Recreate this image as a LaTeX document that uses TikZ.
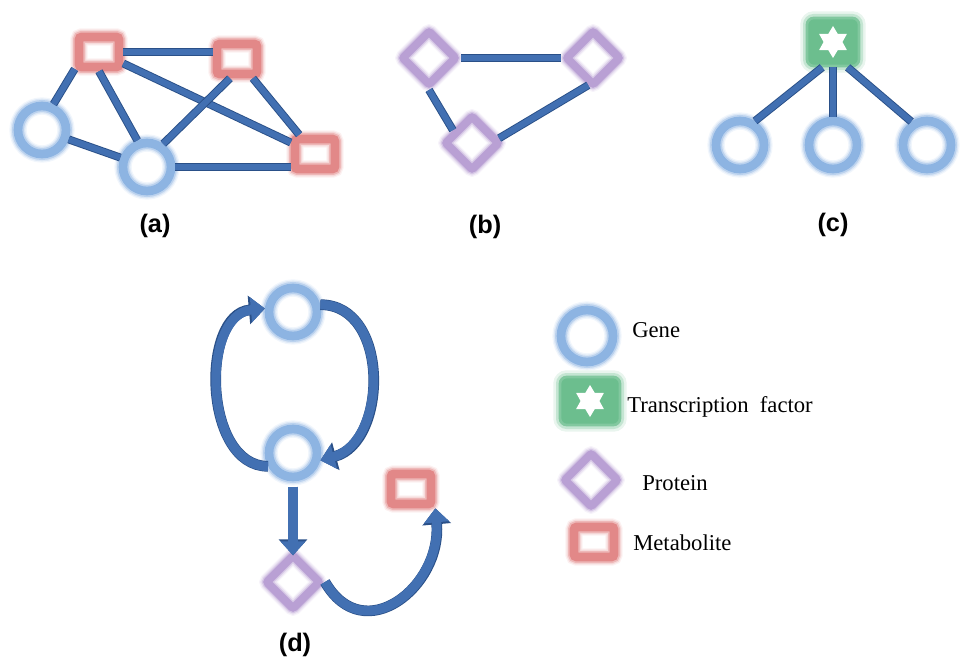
\documentclass[tikz,border=0pt]{standalone}
\usepackage{fontspec}
\setmainfont{Liberation Serif}
\setsansfont{Liberation Sans}
\usetikzlibrary{shapes.geometric,arrows.meta}
\definecolor{genec}{RGB}{141,180,226}
\definecolor{metc}{RGB}{226,136,136}
\definecolor{protc}{RGB}{185,160,212}
\definecolor{tfc}{RGB}{108,190,142}
\definecolor{linkc}{RGB}{66,112,178}
\definecolor{linkd}{RGB}{42,80,136}

\begin{document}
\begin{tikzpicture}[x=0.75pt,y=0.75pt,
	gene/.style={circle, minimum size=36pt, inner sep=0pt, draw=genec, line width=6.5pt,
		preaction={draw=genec!12, line width=13pt}, preaction={draw=genec!30, line width=11pt}, preaction={draw=genec!60, line width=9pt}},
	meta/.style={rectangle, minimum width=30pt, minimum height=22.5pt, inner sep=0pt, rounded corners=2pt, draw=metc, line width=6.5pt,
		preaction={draw=metc!12, line width=13pt}, preaction={draw=metc!30, line width=11pt}, preaction={draw=metc!60, line width=9pt}},
	prot/.style={diamond, minimum size=42pt, inner sep=0pt, rounded corners=1.5pt, draw=protc, line width=6pt,
		preaction={draw=protc!12, line width=12pt}, preaction={draw=protc!30, line width=10pt}, preaction={draw=protc!60, line width=8pt}},
	tfac/.style={rectangle, minimum width=39pt, minimum height=36pt, inner sep=0pt, rounded corners=5pt, fill=tfc, draw=tfc!85, line width=2pt,
		preaction={draw=tfc!15, line width=10pt}, preaction={draw=tfc!40, line width=6pt},
		path picture={\node[tfstar] at (path picture bounding box.center) {};}},
	tfstar/.style={star, star points=6, star point ratio=1.7, sharp corners, fill=white, draw=none, inner sep=0pt, minimum size=24pt},
	link/.style={draw=linkc, line width=4.6pt, preaction={draw=linkd, line width=6pt}},
	flow/.style={draw=linkc, line width=7pt, -{Triangle[width=0pt 2.6, length=0pt 1.5]}, preaction={draw=linkd, line width=8pt}},
	lbl/.style={font=\sffamily\bfseries\fontsize{19}{22}\selectfont},
	legtext/.style={anchor=base west, inner sep=0pt, font=\fontsize{17}{20}\selectfont}]
	\useasboundingbox (0,0) rectangle (962,-659);
	
	% (a)
	\node[meta] (am1) at (99,-52) {};
	\node[meta] (am2) at (237,-59) {};
	\node[meta] (am3) at (315,-154) {};
	\node[gene] (ag1) at (42,-130) {};
	\node[gene] (ag2) at (147,-167) {};
	\draw[link] (am1.east) -- (am1.east -| am2.west);
	\draw[link] (am1.215) -- (ag1.66);
	\draw[link] (am1.south) -- (ag2.110);
	\draw[link] (am1) -- (am3);
	\draw[link] (am2.250) -- (ag2.55);
	\draw[link] (am2) -- (am3);
	\draw[link] (ag1) -- (ag2);
	\draw[link] (ag2.east) -- (ag2.east -| am3.west);
	\node[lbl] (la) at (155,-226) {(a)};
	
	% (b)
	\node[prot] (bp1) at (429,-58) {};
	\node[prot] (bp2) at (593,-58) {};
	\node[prot] (bp3) at (472,-143) {};
	\draw[link] (bp1) -- (bp2);
	\draw[link] (bp1.south) -- (bp3.146);
	\draw[link] (bp3.10) -- (bp2.260);
	\node[lbl] (lb) at (485,-227) {(b)};
	
	% (c)
	\node[tfac] (ctf) at (833,-42) {};
	\node[gene] (cg1) at (740,-145) {};
	\node[gene] (cg2) at (833,-145) {};
	\node[gene] (cg3) at (927,-145) {};
	\draw[link] (ctf.247) -- (cg1.58);
	\draw[link] (ctf.south) -- (cg2.north);
	\draw[link] (ctf.300) -- (cg3.124);
	\node[lbl] (lc) at (833,-225) {(c)};
	
	% (d)
	\node[gene] (dg1) at (293,-312) {};
	\node[gene] (dg2) at (293,-453) {};
	\node[prot] (dp) at (293,-582) {};
	\node[meta] (dm) at (411,-489) {};
	\draw[flow] (dg2.208) to[out=180, in=185, looseness=1.05] (dg1.173);
	\draw[flow] (dg1.15) to[out=0, in=15, looseness=1.15] (dg2.345);
	\draw[flow, shorten <=4pt, shorten >=-4pt] (dg2.south) -- (dp.north);
	\draw[flow] (dp.east) to[out=-60, in=-85, looseness=1.5] (dm.south east);
	\node[lbl] (ld) at (295,-645) {(d)};
	
	% legend
	\node[gene, minimum size=39pt] (lgene) at (587,-336) {};
	\node[tfac, minimum width=45pt] (ltf) at (590,-401) {};
	\node[prot] (lprot) at (591,-480) {};
	\node[meta] (lmeta) at (594,-542) {};
	\node[legtext] (tgene) at (632,-337) {Gene};
	\node[legtext] (ttf) at (627,-412) {Transcription\ \ factor};
	\node[legtext] (tprot) at (642,-490) {Protein};
	\node[legtext] (tmeta) at (633,-550) {Metabolite};
\end{tikzpicture}
\end{document}
